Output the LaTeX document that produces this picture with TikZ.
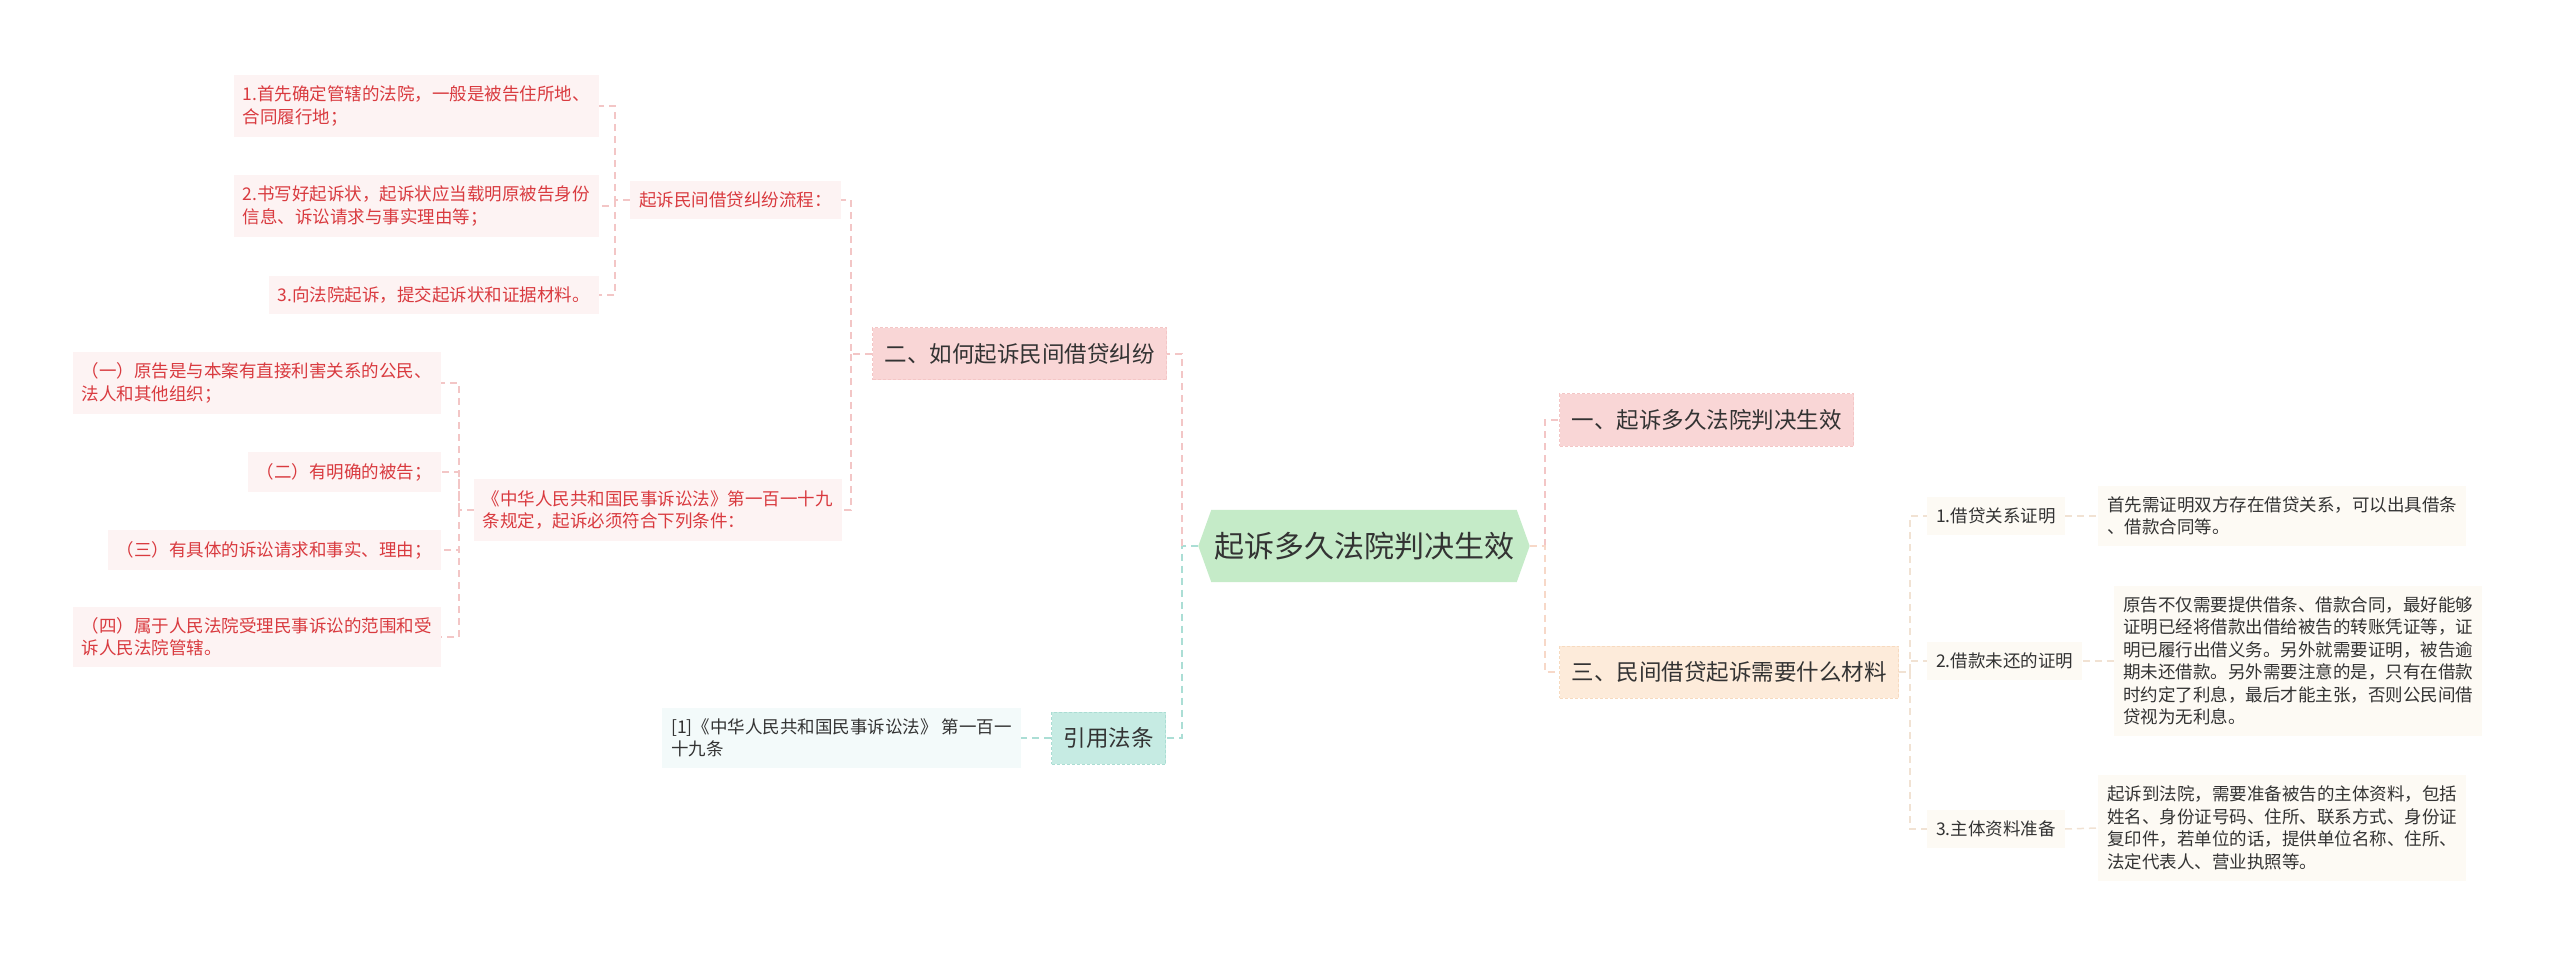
\documentclass[tikz,border=0pt]{standalone}
\usepackage{fontspec}
\setmainfont{Noto Sans CJK SC}
\usetikzlibrary{backgrounds}
\definecolor{hexgreen}{HTML}{C5EBC8}
\definecolor{pinkfill}{HTML}{F9D6D6}
\definecolor{pinkborder}{HTML}{F4C6C6}
\definecolor{orangefill}{HTML}{FDEBDA}
\definecolor{orangeborder}{HTML}{F7DABF}
\definecolor{tealfill}{HTML}{C6EBE3}
\definecolor{tealborder}{HTML}{AADDD3}
\definecolor{leafpink}{HTML}{FDF3F3}
\definecolor{redtxt}{HTML}{D93A3F}
\definecolor{leafcream}{HTML}{FDFAF4}
\definecolor{citefill}{HTML}{F3FAFA}
\definecolor{txt}{HTML}{333333}
\definecolor{connpink}{HTML}{F3C6C6}
\definecolor{connpeach}{HTML}{F7D8C8}
\definecolor{connteal}{HTML}{ABDED5}
\definecolor{connbeige}{HTML}{F1E2D3}
\begin{document}
\begin{tikzpicture}[x=1pt,y=-1pt,
  hexnode/.style={minimum width=331pt, minimum height=72pt, inner sep=0pt, font=\fontsize{30}{36}\selectfont, text=txt},
  topic/.style={draw, densely dashed, line width=1pt, inner xsep=12pt, inner ysep=0pt, minimum height=52pt, font=\fontsize{22.5}{27}\selectfont, text=txt},
  leafL/.style={fill=leafpink, text=redtxt, align=left, inner xsep=9pt, inner ysep=11pt, font=\fontsize{17.5}{22.5}\selectfont},
  leafR/.style={fill=leafcream, text=txt, align=left, inner xsep=9pt, inner ysep=11pt, font=\fontsize{17.5}{22.5}\selectfont},
  leafC/.style={fill=citefill, text=txt, align=left, inner xsep=9pt, inner ysep=11pt, font=\fontsize{17.5}{22.5}\selectfont},
  conn/.style={line width=1.5pt, dash pattern=on 7pt off 5pt}
]
\useasboundingbox (0,0) rectangle (2560,957);

% center
\node[hexnode] (hex) at (1364,546) {起诉多久法院判决生效};

% main topics
\node[topic, draw=pinkborder, fill=pinkfill, anchor=east] (t2) at (1167,354) {二、如何起诉民间借贷纠纷};
\node[topic, draw=pinkborder, fill=pinkfill, anchor=west] (t1) at (1559,420) {一、起诉多久法院判决生效};
\node[topic, draw=orangeborder, fill=orangefill, anchor=west] (t3) at (1559,672) {三、民间借贷起诉需要什么材料};
\node[topic, draw=tealborder, fill=tealfill, anchor=east] (ref) at (1166,738) {引用法条};

% left: process
\node[leafL, anchor=east] (lc) at (841,200) {起诉民间借贷纠纷流程：};
\node[leafL, anchor=east] (l1) at (599,106) {1.首先确定管辖的法院，一般是被告住所地、\\合同履行地；};
\node[leafL, anchor=east] (l2) at (599,206) {2.书写好起诉状，起诉状应当载明原被告身份\\信息、诉讼请求与事实理由等；};
\node[leafL, anchor=east] (l3) at (599,295) {3.向法院起诉，提交起诉状和证据材料。};

% left: conditions
\node[leafL, anchor=east] (tiao) at (842,510) {《中华人民共和国民事诉讼法》第一百一十九\\条规定，起诉必须符合下列条件：};
\node[leafL, anchor=east] (c1) at (441,383) {（一）原告是与本案有直接利害关系的公民、\\法人和其他组织；};
\node[leafL, anchor=east] (c2) at (441,472) {（二）有明确的被告；};
\node[leafL, anchor=east] (c3) at (441,550) {（三）有具体的诉讼请求和事实、理由；};
\node[leafL, anchor=east] (c4) at (441,637) {（四）属于人民法院受理民事诉讼的范围和受\\诉人民法院管辖。};

% citation
\node[leafC, anchor=east] (ct) at (1021,738) {[1]《中华人民共和国民事诉讼法》 第一百一\\十九条};

% right: materials
\node[leafR, anchor=west] (r1) at (1927,516) {1.借贷关系证明};
\node[leafR, anchor=west] (r2) at (1927,661) {2.借款未还的证明};
\node[leafR, anchor=west] (r3) at (1927,829) {3.主体资料准备};
\node[leafR, anchor=west] (d1) at (2098,516) {首先需证明双方存在借贷关系，可以出具借条\\、借款合同等。};
\node[leafR, anchor=west] (d2) at (2114,661) {原告不仅需要提供借条、借款合同，最好能够\\证明已经将借款出借给被告的转账凭证等，证\\明已履行出借义务。另外就需要证明，被告逾\\期未还借款。另外需要注意的是，只有在借款\\时约定了利息，最后才能主张，否则公民间借\\贷视为无利息。};
\node[leafR, anchor=west] (d3) at (2098,828) {起诉到法院，需要准备被告的主体资料，包括\\姓名、身份证号码、住所、联系方式、身份证\\复印件，若单位的话，提供单位名称、住所、\\法定代表人、营业执照等。};

% junction coordinates
\coordinate (jL) at (1182,546);
\coordinate (jR) at (1545,546);
\coordinate (j2) at (851,354);
\coordinate (jlc) at (615,200);
\coordinate (jt) at (459,510);
\coordinate (j3) at (1910,672);

\begin{pgfonlayer}{background}
\fill[hexgreen] (hex.west) -- ([xshift=13pt]hex.north west) -- ([xshift=-13pt]hex.north east) -- (hex.east) -- ([xshift=-13pt]hex.south east) -- ([xshift=13pt]hex.south west) -- cycle;
\draw[conn, connteal] (hex.west) -- (jL) |- (ref.east);
\draw[conn, connpink] (jL) |- (t2.east);
\draw[conn, connpink] (jR) |- (t1.west);
\draw[conn, connpeach] (hex.east) -- (jR) |- (t3.west);
\draw[conn, connpink] (t2.west) -- (j2) |- (lc.east);
\draw[conn, connpink] (j2) |- (tiao.east);
\draw[conn, connpink] (lc.west) -- (jlc) |- (l1.east);
\draw[conn, connpink] (jlc) |- (l2.east);
\draw[conn, connpink] (jlc) |- (l3.east);
\draw[conn, connpink] (tiao.west) -- (jt) |- (c1.east);
\draw[conn, connpink] (jt) |- (c2.east);
\draw[conn, connpink] (jt) |- (c3.east);
\draw[conn, connpink] (jt) |- (c4.east);
\draw[conn, connteal] (ref.west) -- (ct.east);
\draw[conn, connbeige] (t3.east) -- (j3) |- (r1.west);
\draw[conn, connbeige] (j3) |- (r2.west);
\draw[conn, connbeige] (j3) |- (r3.west);
\draw[conn, connbeige] (r1.east) -- (d1.west);
\draw[conn, connbeige] (r2.east) -- (d2.west);
\draw[conn, connbeige] (r3.east) -- (d3.west);
\end{pgfonlayer}
\end{tikzpicture}
\end{document}
